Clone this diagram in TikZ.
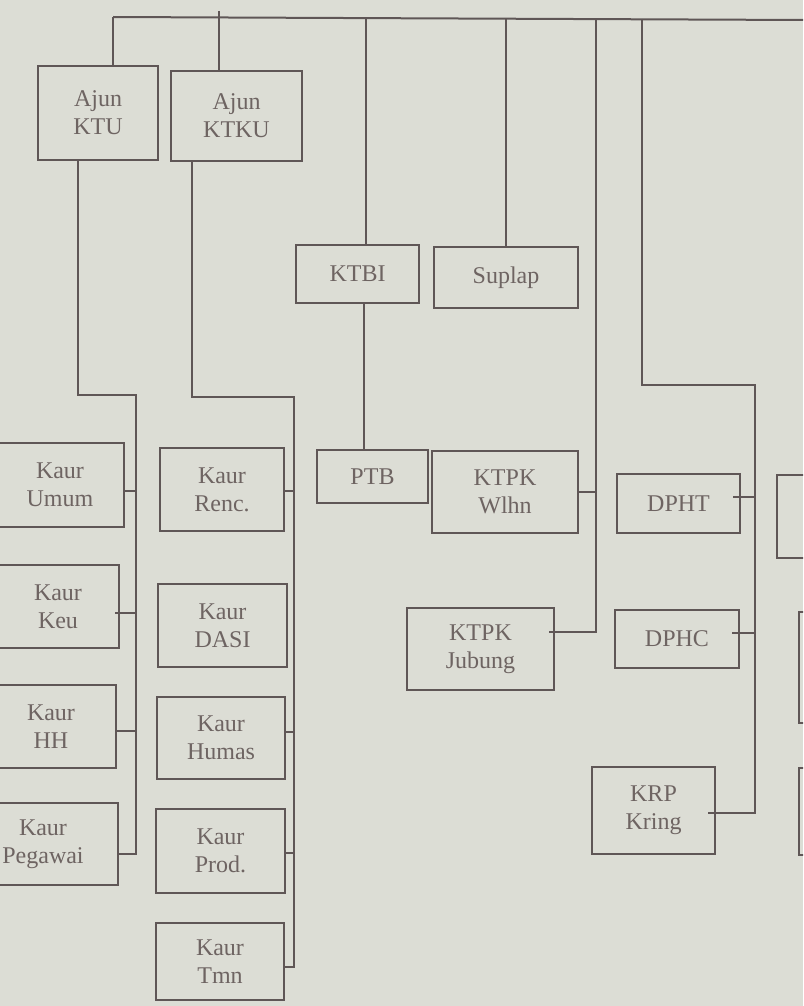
\documentclass[tikz,border=0pt]{standalone}
\usepackage{fontspec}
\setmainfont{Liberation Serif}
\usetikzlibrary{calc}
\definecolor{paper}{HTML}{DCDDD5}
\definecolor{ink}{HTML}{5F5656}
\definecolor{txt}{HTML}{6E6462}
\begin{document}
\begin{tikzpicture}[x=1pt,y=-1pt,
  box/.style={draw=ink,line width=2pt,text=txt,align=center,inner sep=0pt,
              font=\fontsize{24}{28}\selectfont},
  wire/.style={draw=ink,line width=2pt}]
\useasboundingbox (0,0) rectangle (803,1006);
\fill[paper] (0,0) rectangle (803,1006);
\clip (0,0) rectangle (803,1006);

% top level boxes
\node[box,minimum width=120pt,minimum height=94pt] (ktu) at (98,113) {Ajun\\KTU};
\node[box,minimum width=131pt,minimum height=90pt] (ktku) at (236.5,116) {Ajun\\KTKU};
\node[box,minimum width=123pt,minimum height=58pt] (ktbi) at (357.5,274) {KTBI};
\node[box,minimum width=144pt,minimum height=61pt] (suplap) at (506,277.5) {Suplap};
\node[box,minimum width=111pt,minimum height=53pt] (ptb) at (372.5,476.5) {PTB};
\node[box,minimum width=146pt,minimum height=82pt] (wlhn) at (505,492) {KTPK\\Wlhn};
\node[box,minimum width=147pt,minimum height=82pt] (jubung) at (480.5,649) {KTPK\\Jubung};
\node[box,minimum width=123pt,minimum height=59pt] (dpht) at (678.5,503.5) {DPHT};
\node[box,minimum width=124pt,minimum height=58pt] (dphc) at (677,639) {DPHC};
\node[box,minimum width=123pt,minimum height=87pt] (krp) at (653.5,810.5) {KRP\\Kring};

% left column (KTU)
\node[box,minimum width=128pt,minimum height=84pt] (umum) at (60,485) {Kaur\\Umum};
\node[box,minimum width=122pt,minimum height=83pt] (keu) at (58,606.5) {Kaur\\Keu};
\node[box,minimum width=130pt,minimum height=83pt] (hh) at (51,726.5) {Kaur\\HH};
\node[box,minimum width=150pt,minimum height=82pt] (pegawai) at (43,844) {Kaur\\Pegawai};

% second column (KTKU)
\node[box,minimum width=124pt,minimum height=83pt] (renc) at (222,489.5) {Kaur\\Renc.};
\node[box,minimum width=129pt,minimum height=83pt] (dasi) at (222.5,625.5) {Kaur\\DASI};
\node[box,minimum width=128pt,minimum height=82pt] (humas) at (221,738) {Kaur\\Humas};
\node[box,minimum width=129pt,minimum height=84pt] (prod) at (220.5,851) {Kaur\\Prod.};
\node[box,minimum width=128pt,minimum height=77pt] (tmn) at (220,961.5) {Kaur\\Tmn};

% partial boxes at right edge
\node[box,minimum width=60pt,minimum height=83pt] (r1) at (807,516.5) {};
\node[box,minimum width=60pt,minimum height=111pt] (r2) at (829,667.5) {};
\node[box,minimum width=60pt,minimum height=87pt] (r3) at (829,811.5) {};

% top bar
\coordinate (barL) at (113,17);
\coordinate (barR) at (803,20);
\draw[wire] (barL) -- (barR);
\coordinate (root) at (219,11);
\draw[wire] (root) -- (root |- ktku.north);
\draw[wire] (barL) -- (barL |- ktu.north);
\coordinate (t3) at (366,18);
\draw[wire] (t3) -- (t3 |- ktbi.north);
\coordinate (t4) at (506,19);
\draw[wire] (t4) -- (suplap.north);
\coordinate (k1) at (364,0);
\draw[wire] (ktbi.south -| k1) -- (ptb.north -| k1);

% KTPK branch
\coordinate (t5) at (596,19);
\coordinate (t5b) at (596,632);
\draw[wire] (t5) -- (t5b) -- ($(t5b -| jubung.east)+(-6,0)$);
\draw[wire] (wlhn.east) -- (wlhn.east -| t5);

% DPH branch
\coordinate (t6) at (642,19);
\coordinate (t6a) at (642,385);
\coordinate (t6b) at (755,385);
\coordinate (t6c) at (755,813);
\draw[wire] (t6) -- (t6a) -- (t6b) -- (t6c) -- ($(t6c -| krp.east)+(-8,0)$);
\coordinate (d1) at (755,497);
\draw[wire] (d1) -- ($(d1 -| dpht.east)+(-8,0)$);
\coordinate (d2) at (755,633);
\draw[wire] (d2) -- ($(d2 -| dphc.east)+(-8,0)$);

% KTU branch
\coordinate (a1) at (78,395);
\coordinate (a2) at (136,395);
\coordinate (a3) at (136,854);
\draw[wire] (a1 |- ktu.south) -- (a1) -- (a2) -- (a3) -- (a3 -| pegawai.east);
\coordinate (a4) at (136,491);
\draw[wire] (a4) -- (a4 -| umum.east);
\coordinate (a5) at (136,613);
\draw[wire] (a5) -- ($(a5 -| keu.east)+(-5,0)$);
\coordinate (a6) at (136,731);
\draw[wire] (a6) -- (a6 -| hh.east);

% KTKU branch
\coordinate (b1) at (192,397);
\coordinate (b2) at (294,397);
\coordinate (b3) at (294,967);
\draw[wire] (b1 |- ktku.south) -- (b1) -- (b2) -- (b3) -- (b3 -| tmn.east);
\coordinate (b4) at (294,491);
\draw[wire] (b4) -- (b4 -| renc.east);
\coordinate (b5) at (294,732);
\draw[wire] (b5) -- (b5 -| humas.east);
\coordinate (b6) at (294,853);
\draw[wire] (b6) -- (b6 -| prod.east);
\end{tikzpicture}
\end{document}
